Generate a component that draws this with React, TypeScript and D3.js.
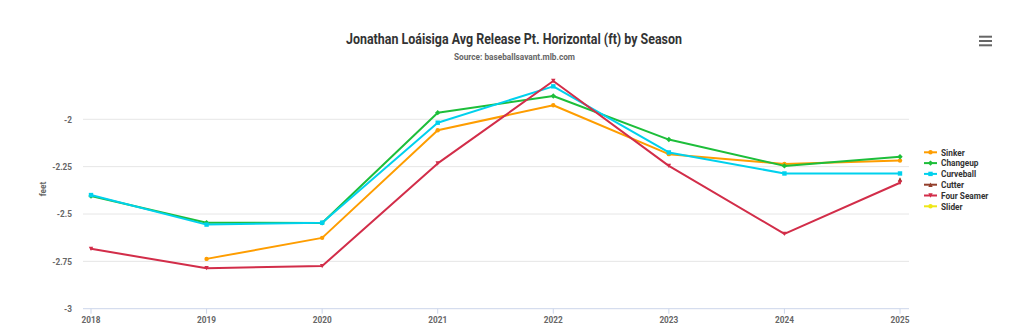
import React from "react";
import * as d3 from "d3";

const seasons = [2018, 2019, 2020, 2021, 2022, 2023, 2024, 2025];
const yTicks = [-3, -2.75, -2.5, -2.25, -2];
const sinker = [null, -2.737, -2.626, -2.058, -1.926, -2.184, -2.236, -2.218];
const changeup = [-2.405, -2.546, -2.547, -1.965, -1.877, -2.107, -2.246, -2.198];
const curveball = [-2.4, -2.556, -2.546, -2.018, -1.826, -2.175, -2.286, -2.286];
const cutter = [null, null, null, null, null, null, null, -2.318];
const fourSeamer = [-2.684, -2.786, -2.775, -2.233, -1.798, -2.246, -2.605, -2.335];
const slider = [null, null, null, null, null, null, null, null];

const seriesNames = ["Sinker", "Changeup", "Curveball", "Cutter", "Four Seamer", "Slider"];
const seriesColors = ["#FE9D00", "#1DBE3A", "#00D1ED", "#933F2C", "#D22D49", "#EEE716"];
const seriesSymbols = ["circle", "diamond", "square", "triangle", "triangle-down", "circle"];
const seriesValues = [sinker, changeup, curveball, cutter, fourSeamer, slider];

const FONT = "Roboto, 'Liberation Sans Narrow', sans-serif";
const SX = 0.87;

function Marker({ sym, x, y, color }: { sym: string; x: number; y: number; color: string }) {
  const r = 2.2;
  if (sym === "circle") return <circle cx={x} cy={y} r={r} fill={color} />;
  if (sym === "square") return <rect x={x - r} y={y - r} width={2 * r} height={2 * r} fill={color} />;
  if (sym === "diamond")
    return <path d={`M${x},${y - r - 0.5}L${x + r + 0.5},${y}L${x},${y + r + 0.5}L${x - r - 0.5},${y}Z`} fill={color} />;
  if (sym === "triangle")
    return <path d={`M${x},${y - r}L${x + r},${y + r}L${x - r},${y + r}Z`} fill={color} />;
  return <path d={`M${x - r},${y - r}L${x + r},${y - r}L${x},${y + r}Z`} fill={color} />;
}

function CText({ x, y, anchor, size, fill, children }: { x: number; y: number; anchor?: string; size: number; fill: string; children: React.ReactNode }) {
  return (
    <g transform={`translate(${x},${y}) scale(${SX},1)`}>
      <text x={0} y={0} textAnchor={anchor || "start"} fontSize={size} fontWeight="bold" fill={fill}>
        {children}
      </text>
    </g>
  );
}

export default function App() {
  const W = 1021, H = 334;
  const plotL = 83, plotR = 909;
  const x = d3.scaleLinear().domain([2018, 2025]).range([91, 900]);
  const y = d3.scaleLinear().domain([-3, -2]).range([308.7, 119.3]);
  const line = d3
    .line<[number, number | null]>()
    .defined((d) => d[1] !== null)
    .x((d) => x(d[0]))
    .y((d) => y(d[1] as number));

  return (
    <svg width={W} height={H} style={{ position: "fixed", left: 0, top: 0, background: "#fff" }} fontFamily={FONT}>
      <rect x={0} y={0} width={W} height={H} fill="#fff" />
      <text x={514} y={43.5} textAnchor="middle" fontSize={14} fontWeight="bold" fill="#333" textLength={336} lengthAdjust="spacingAndGlyphs">
        Jonathan Loáisiga Avg Release Pt. Horizontal (ft) by Season
      </text>
      <text x={514.5} y={59.5} textAnchor="middle" fontSize={9.5} fontWeight="bold" fill="#666" textLength={121} lengthAdjust="spacingAndGlyphs">
        Source: baseballsavant.mlb.com
      </text>
      {[36.7, 41, 45.3].map((yy, i) => (
        <line key={i} x1={979} x2={992} y1={yy} y2={yy} stroke="#666" strokeWidth={2} />
      ))}
      {yTicks.map((t) => (
        <g key={t}>
          {t !== -3 && <line x1={plotL} x2={plotR} y1={y(t)} y2={y(t)} stroke="#e6e6e6" strokeWidth={1} />}
          <CText x={72} y={y(t) + 3.3} anchor="end" size={9.5} fill="#666">
            {t}
          </CText>
        </g>
      ))}
      <line x1={plotL} x2={plotR} y1={y(-3)} y2={y(-3)} stroke="#ccd6eb" strokeWidth={1} />
      {seasons.map((s) => (
        <g key={s}>
          <line x1={x(s)} x2={x(s)} y1={y(-3)} y2={y(-3) + 5} stroke="#ccd6eb" strokeWidth={1} />
          <CText x={x(s)} y={323} anchor="middle" size={9.5} fill="#666">
            {s}
          </CText>
        </g>
      ))}
      <text transform={`translate(45.5,189) rotate(-90) scale(${SX},1)`} textAnchor="middle" fontSize={9.5} fontWeight="bold" fill="#666">
        feet
      </text>
      {seriesValues.map((vals, i) => {
        const pts = seasons.map((s, j) => [s, vals[j]] as [number, number | null]);
        return (
          <g key={seriesNames[i]}>
            <path d={line(pts) || ""} fill="none" stroke={seriesColors[i]} strokeWidth={2} strokeLinejoin="round" strokeLinecap="round" />
            {pts
              .filter((p) => p[1] !== null)
              .map((p) => (
                <Marker key={p[0]} sym={seriesSymbols[i]} x={x(p[0])} y={y(p[1] as number)} color={seriesColors[i]} />
              ))}
          </g>
        );
      })}
      {seriesNames.map((n, i) => {
        const ly = 152.3 + i * 10.8;
        return (
          <g key={n}>
            <line x1={924} x2={937} y1={ly} y2={ly} stroke={seriesColors[i]} strokeWidth={2} />
            <Marker sym={seriesSymbols[i]} x={930.5} y={ly} color={seriesColors[i]} />
            <CText x={941} y={ly + 3.3} size={9.5} fill="#333">
              {n}
            </CText>
          </g>
        );
      })}
    </svg>
  );
}
